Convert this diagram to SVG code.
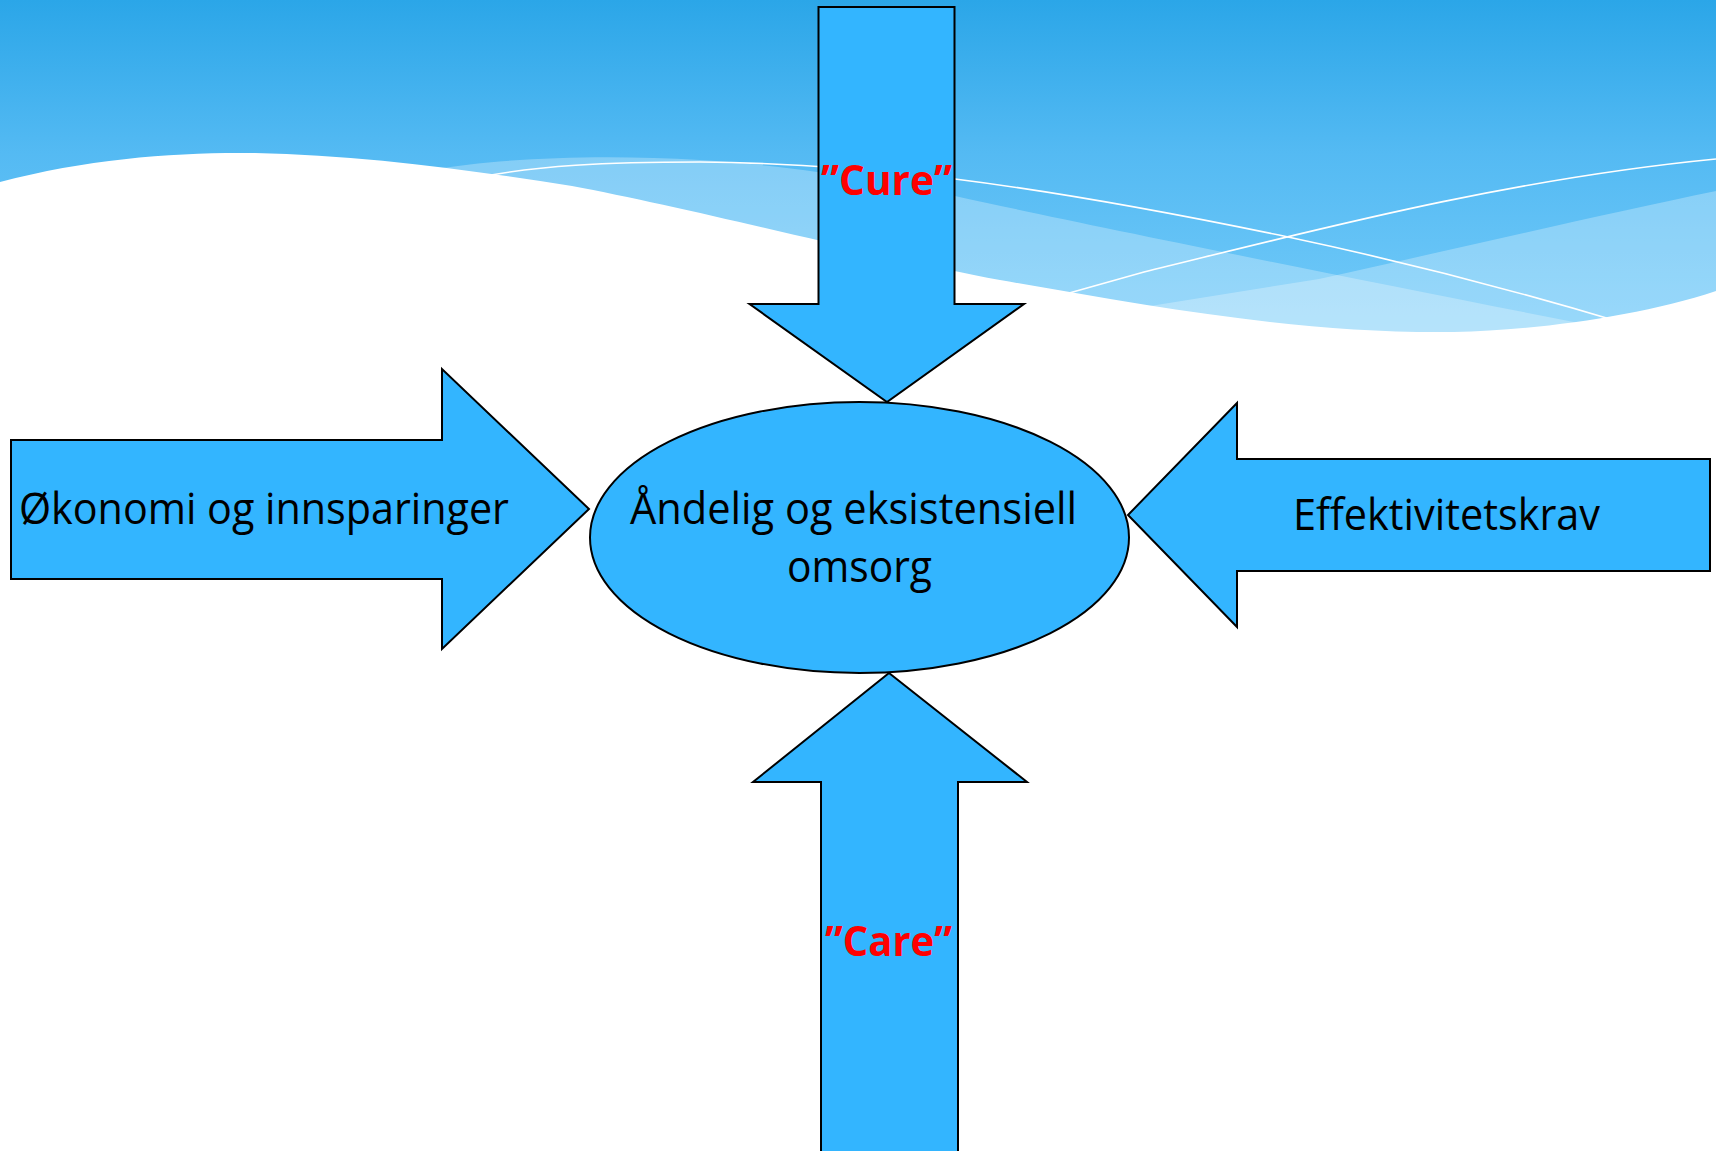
<svg xmlns="http://www.w3.org/2000/svg" width="1716" height="1151" viewBox="0 0 1716 1151">
  <defs>
    <linearGradient id="sky" x1="0" y1="0" x2="0" y2="340" gradientUnits="userSpaceOnUse">
      <stop offset="0" stop-color="#2BA6E8"/>
      <stop offset="0.45" stop-color="#54BAF3"/>
      <stop offset="1" stop-color="#74CBF9"/>
    </linearGradient>
  </defs>
  <style>
    .shape { fill: #33B5FF; stroke: #000000; stroke-width: 2; stroke-linejoin: miter; }
    .lbl { font-family: "Open Sans", "Noto Sans", "Liberation Sans", sans-serif; font-size: 43px; fill: #000000; }
    .red { font-family: "Open Sans", "Noto Sans", "Liberation Sans", sans-serif; font-size: 42px; font-weight: bold; fill: #FF0000; }
    .band { fill: #FFFFFF; fill-opacity: 0.28; }
    .wline { fill: none; stroke: #FFFFFF; stroke-width: 1.6; }
  </style>

  <g id="background">
    <rect x="0" y="0" width="1716" height="1151" fill="url(#sky)"/>
    <path class="band" d="M430,170 C500,158 600,154 700,160 C800,166 900,184 955,196 C1100,228 1400,288 1716,350 L1716,420 L430,420 Z"/>
    <path class="band" d="M1060,318 L1144,307 L1319,279 C1450,250 1600,215 1716,191 L1716,420 L1060,420 Z"/>
    <path class="wline" d="M485,176 C540,166 600,162 700,162 C800,163 900,172 955,179 C1050,191 1144,207 1288,237 C1420,265 1530,295 1620,322"/>
    <path class="wline" d="M1055,297 L1144,272 C1300,234 1500,180 1716,159"/>
    <path fill="#FFFFFF" d="M0,182 C90,158 180,152 255,153 C360,155 470,170 572,186 C700,210 900,262 1000,280 C1150,306 1300,334 1454,332 C1540,330 1640,316 1716,291 L1716,1151 L0,1151 Z"/>
  </g>

  <g id="connectors"></g>

  <g id="node-cure">
    <polygon class="shape" points="818.5,7 954.5,7 954.5,304 1024,304 887,402 749.5,304 818.5,304"/>
    <text class="red" x="821" y="195" textLength="131" lengthAdjust="spacingAndGlyphs">”Cure”</text>
  </g>

  <g id="node-okonomi">
    <polygon class="shape" points="11,440 442,440 442,369 589,509 442,649 442,579 11,579"/>
    <text class="lbl" x="19" y="524" textLength="490" lengthAdjust="spacingAndGlyphs">Økonomi og innsparinger</text>
  </g>

  <g id="node-effektivitet">
    <polygon class="shape" points="1710,459 1237,459 1237,403 1128,515 1237,627 1237,571 1710,571"/>
    <text class="lbl" x="1293" y="530" textLength="307" lengthAdjust="spacingAndGlyphs">Effektivitetskrav</text>
  </g>

  <g id="node-care">
    <polygon class="shape" points="889,673 1027,782 958,782 958,1160 821,1160 821,782 753,782"/>
    <text class="red" x="825" y="956" textLength="127" lengthAdjust="spacingAndGlyphs">”Care”</text>
  </g>

  <g id="node-center">
    <ellipse class="shape" cx="859.5" cy="537.5" rx="269.5" ry="135.5"/>
    <text class="lbl" x="630" y="524" textLength="447" lengthAdjust="spacingAndGlyphs">Åndelig og eksistensiell</text>
    <text class="lbl" x="787" y="582" textLength="145" lengthAdjust="spacingAndGlyphs">omsorg</text>
  </g>
</svg>
